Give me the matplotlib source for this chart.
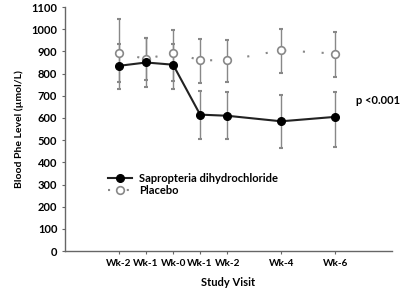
import matplotlib
matplotlib.use("Agg")
import matplotlib.pyplot as plt

plt.rcParams['font.family'] = ['Lato', 'DejaVu Sans']
plt.rcParams['font.weight'] = 'bold'

# study visits (weeks)
weeks = [-2, -1, 0, 1, 2, 4, 6]
week_labels = ["Wk-2", "Wk-1", "Wk-0", "Wk-1", "Wk-2", "Wk-4", "Wk-6"]

sapro = [835, 850, 840, 615, 610, 585, 605]
sapro_lo = [730, 740, 730, 505, 505, 465, 470]
sapro_hi = [935, 960, 935, 720, 717, 703, 717]

placebo = [895, 865, 895, 860, 860, 905, 890]
placebo_lo = [760, 770, 765, 757, 762, 802, 784]
placebo_hi = [1045, 960, 995, 956, 951, 1000, 987]

fig = plt.figure(figsize=(4, 2.92), dpi=100)
ax = fig.add_axes([0.1625, 0.14, 0.8175, 0.836])

err_col = '#888888'
ax.errorbar(weeks, placebo,
            yerr=[[p - l for p, l in zip(placebo, placebo_lo)],
                  [h - p for p, h in zip(placebo, placebo_hi)]],
            fmt='none', ecolor=err_col, elinewidth=1.0, capsize=1.5, capthick=1.5, zorder=1)
ax.errorbar(weeks, sapro,
            yerr=[[s - l for s, l in zip(sapro, sapro_lo)],
                  [h - s for s, h in zip(sapro, sapro_hi)]],
            fmt='none', ecolor=err_col, elinewidth=1.0, capsize=1.5, capthick=1.5, zorder=1)

ax.plot(weeks, placebo, linestyle=(0, (1, 8)), color='#888888', linewidth=1.5,
        marker='o', markersize=5.5, markerfacecolor='white', markeredgecolor='#888888',
        markeredgewidth=1.2, label='Placebo', zorder=3)
ax.plot(weeks, sapro, linestyle='-', color='#222222', linewidth=1.5,
        marker='o', markersize=5.5, markerfacecolor='black', markeredgecolor='black',
        label='Sapropteria dihydrochloride', zorder=4)

handles, labels = ax.get_legend_handles_labels()
ax.legend(handles[::-1], labels[::-1], loc='upper left', bbox_to_anchor=(0.1, 0.36),
          frameon=False, handlelength=2.2, labelspacing=0.1, handletextpad=0.6,
          prop={'weight': 'bold', 'size': 8})

ax.text(6.75, 680, "p <0.001", fontsize=8, fontweight='bold', ha='left', va='center')

ax.set_xlim(-4, 8.1)
ax.set_ylim(0, 1100)
ax.set_yticks(range(0, 1101, 100))
ax.set_xticks(weeks)
ax.set_xticklabels(week_labels)
ax.tick_params(axis='both', labelsize=8, length=2.5, color='#666666', pad=3)
ax.tick_params(axis='x', labelsize=7.2)
for s in ['top', 'right']:
    ax.spines[s].set_visible(False)
for s in ['left', 'bottom']:
    ax.spines[s].set_color('#666666')
    ax.spines[s].set_linewidth(1.0)

ax.set_ylabel("Blood Phe Level (µmol/L)", fontsize=7.5, fontweight='bold', labelpad=5)
ax.set_xlabel("Study Visit", fontsize=8, fontweight='bold', labelpad=7)

fig.savefig("out.png", dpi=100)
